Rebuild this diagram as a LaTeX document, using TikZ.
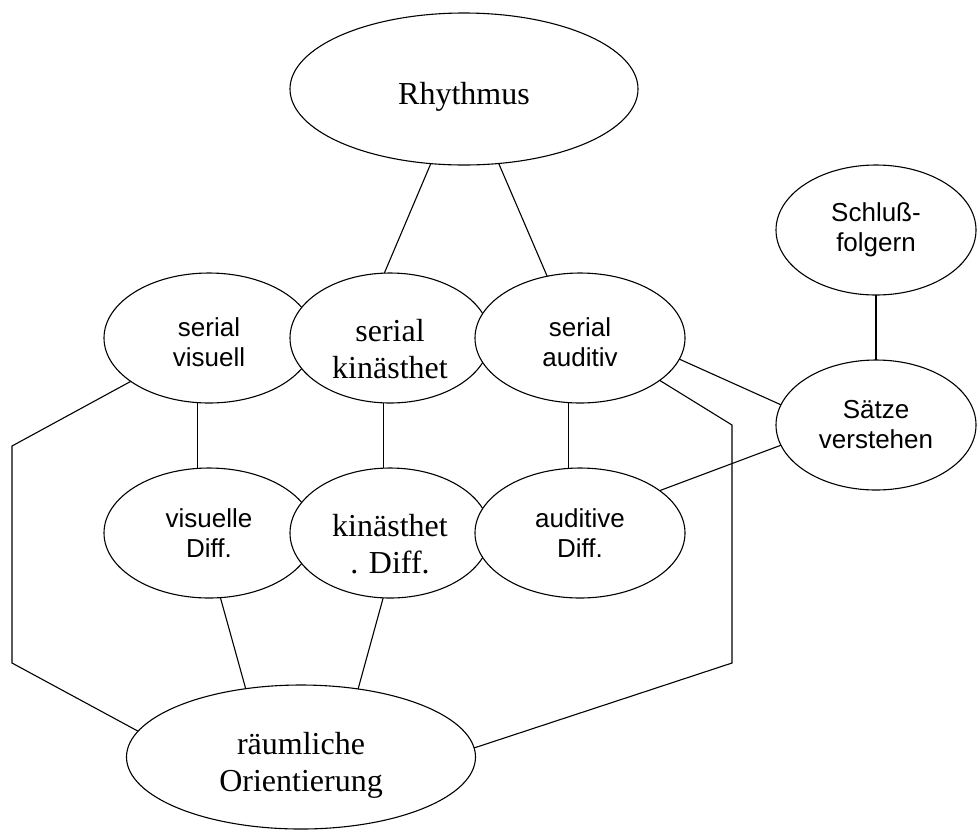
\documentclass[tikz,border=0pt]{standalone}
\usepackage{fontspec}
\setmainfont{Liberation Serif}
\setsansfont{Liberation Sans}
\usetikzlibrary{shapes.geometric}
\newcommand{\dropstrut}[1]{\rule{0pt}{#1}}
\tikzset{bub/.style={ellipse, draw, fill=white, line width=1.1pt, inner sep=0pt, outer sep=0pt, minimum width=210pt, minimum height=130pt, align=center}}
\tikzset{bubrm/.style={bub, font=\fontsize{32}{37}\selectfont}}
\tikzset{bubsf/.style={bub, font=\sffamily\fontsize{26}{30}\selectfont}}
\tikzset{link/.style={draw, line width=1.1pt}}

\begin{document}
\begin{tikzpicture}[x=1pt, y=-1pt]
                \useasboundingbox (0,0) rectangle (979,831);
                %
                \node[bubrm, minimum width=348pt, minimum height=152pt] (R) at (464,89) {\dropstrut{38pt}Rhythmus};
                \node[bubsf, minimum width=200pt] (SF) at (876,230) {Schluß-\\folgern};
                %
                \node[bubsf] (SV) at (209,338) {\dropstrut{28pt}serial\\visuell};
                \node[bubrm, minimum width=200pt] (SK) at (390,338) {\dropstrut{44pt}serial\\kinästhet};
                \node[bubsf] (SA) at (580,338) {\dropstrut{28pt}serial\\auditiv};
                \node[bubsf, minimum width=200pt] (SZ) at (876,425) {Sätze\\verstehen};
                %
                \node[bubsf] (VD) at (209,533) {visuelle\\Diff.};
                \node[bubrm, minimum width=200pt] (KD) at (390,533) {\dropstrut{44pt}kinästhet\\. Diff.};
                \node[bubsf] (AD) at (580,533) {auditive\\Diff.};
                %
                \node[bubrm, minimum width=349pt, minimum height=144pt] (RO) at (301,757) {\dropstrut{38pt}räumliche\\Orientierung};
                %
                \coordinate (cl1) at (12,446);
                \coordinate (cl2) at (12,663);
                \coordinate (cr1) at (732,425);
                \coordinate (cr2) at (732,663);
                %
                \draw[link] (R.246) -- (SK.95);
                \draw[link] (R.295) -- (SA.118);
                \draw[link] (SF.south) -- (SZ.north);
                %
                \draw[link] (SV.260) -- (VD.100);
                \draw[link] (SK.264) -- (KD.96);
                \draw[link] (SA.260) -- (AD.100);
                \draw[link] (SA.348) -- (SZ.168);
                \draw[link] (AD.28) -- (SZ.192);
                %
                \draw[link] (VD.280) -- (RO.129);
                \draw[link] (KD.264) -- (RO.50);
                \draw[link] (SV.209) -- (cl1) -- (cl2) -- (RO.171);
                \draw[link] (SA.332) -- (cr1) -- (cr2) -- (RO.3);
                %
\end{tikzpicture}
\end{document}
